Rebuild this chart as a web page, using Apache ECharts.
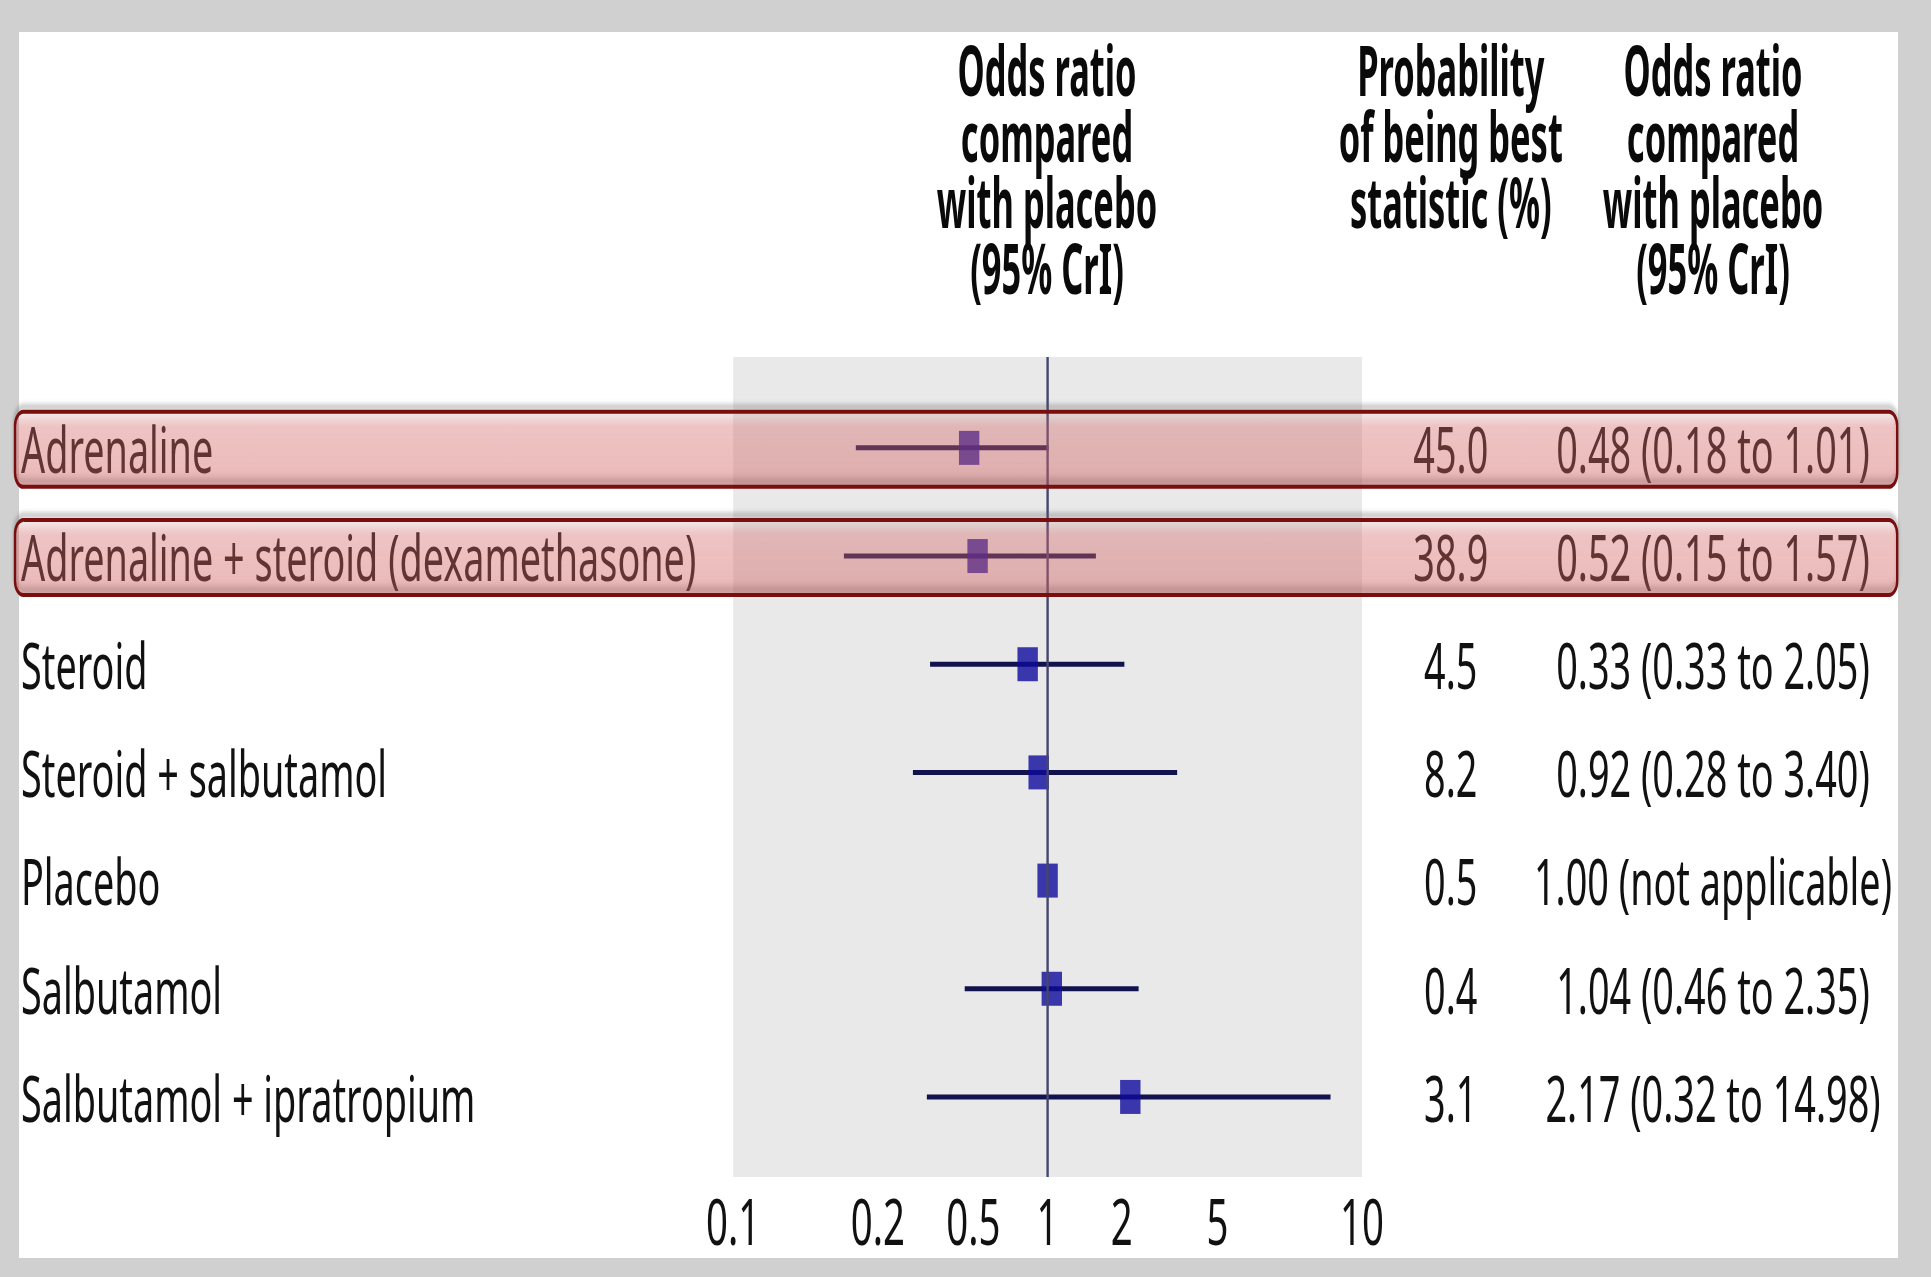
<!DOCTYPE html>
<html>
<head>
<meta charset="utf-8">
<script src="https://cdn.jsdelivr.net/npm/echarts@6/dist/echarts.min.js"></script>
<style>
  html, body { margin: 0; padding: 0; width: 1931px; height: 1277px; overflow: hidden; background: #d0d0d0; }
  #paper { position: absolute; left: 19px; top: 32px; width: 1879px; height: 1226px; background: #fff; }
  /* the source figure is squashed sideways, so the whole chart is drawn wide and squeezed */
  #main { position: absolute; left: 0; top: 0; width: 3219px; height: 1277px; transform: scaleX(0.6); transform-origin: 0 0; }
</style>
</head>
<body>
<div id="paper"></div>
<div id="main"></div>
<script>
// rows, top to bottom
var treatments = ['Adrenaline', 'Adrenaline + steroid (dexamethasone)', 'Steroid', 'Steroid + salbutamol', 'Placebo', 'Salbutamol', 'Salbutamol + ipratropium']
var probBest = [45.0, 38.9, 4.5, 8.2, 0.5, 0.4, 3.1]
var orText = ['0.48 (0.18 to 1.01)', '0.52 (0.15 to 1.57)', '0.33 (0.33 to 2.05)', '0.92 (0.28 to 3.40)', '1.00 (not applicable)', '1.04 (0.46 to 2.35)', '2.17 (0.32 to 14.98)']
// odds ratios as they are drawn in the plot
var orPoint = [0.48, 0.52, 0.83, 0.92, 1.00, 1.04, 2.17]
var orLow = [0.18, 0.17, 0.33, 0.28, null, 0.46, 0.32]
var orHigh = [1.01, 1.57, 2.05, 3.40, null, 2.35, 8.6]
var highlighted = [true, true, false, false, false, false, false]
var tickValues = [0.1, 0.2, 0.5, 1, 2, 5, 10]
var headerOr = ['Odds ratio', 'compared', 'with placebo', '(95% CrI)']
var headerProb = ['Probability', 'of being best', 'statistic (%)']

// where each tick sits on the axis (the figure spaces them unevenly)
var tickSpots = [-1, -0.54, -0.236, 0, 0.236, 0.54, 1]

// odds ratio -> axis position, log-interpolated between ticks
function orToU(v) {
  var lv = Math.log10(v)
  var k = 0
  while (k < tickValues.length - 2 && lv > Math.log10(tickValues[k + 1])) k++
  var a = Math.log10(tickValues[k]), b = Math.log10(tickValues[k + 1])
  return tickSpots[k] + (lv - a) / (b - a) * (tickSpots[k + 1] - tickSpots[k])
}

var FONT = 'Noto Sans'
var rowIdx = treatments.map(function (t, i) { return i })

var ciData = []
rowIdx.forEach(function (i) {
  if (orLow[i] != null) ciData.push([orToU(orLow[i]), orToU(orHigh[i]), i])
})
var pointData = rowIdx.map(function (i) { return [orToU(orPoint[i]), i] })

function rowAxis(pos, margin, align, fmt) {
  return {
    type: 'value',
    position: pos,
    inverse: true,
    min: -0.84,
    max: 6.74,
    axisLine: { show: false },
    axisTick: { show: false },
    splitLine: { show: false },
    axisLabel: {
      customValues: rowIdx,
      margin: margin,
      align: align,
      verticalAlign: 'middle',
      color: '#111',
      fontSize: 63,
      fontFamily: FONT,
      formatter: fmt
    }
  }
}

var chart = echarts.init(document.getElementById('main'), null, { renderer: 'svg' })
chart.setOption({
  animation: false,
  grid: {
    show: true,
    left: 1222,
    top: 357,
    width: 1048,
    height: 820,
    backgroundColor: '#e9e9e9',
    borderWidth: 0
  },
  xAxis: {
    type: 'value',
    min: -1,
    max: 1,
    axisLine: { show: false },
    axisTick: { show: false },
    splitLine: { show: false },
    axisLabel: {
      customValues: tickSpots,
      margin: 43,
      verticalAlign: 'middle',
      color: '#111',
      fontSize: 64,
      fontFamily: FONT,
      formatter: function (val) {
        for (var i = 0; i < tickSpots.length; i++) {
          if (Math.abs(tickSpots[i] - val) < 1e-6) return String(tickValues[i])
        }
        return ''
      }
    }
  },
  yAxis: [
    rowAxis('left', 1187, 'left', function (v) { return treatments[Math.round(v)] || '' }),
    rowAxis('right', 148, 'center', function (v) { var p = probBest[Math.round(v)]; return p == null ? '' : p.toFixed(1) }),
    rowAxis('right', 585, 'center', function (v) { return orText[Math.round(v)] || '' })
  ],
  series: [
    {
      name: 'CrI',
      type: 'custom',
      z: 2,
      data: ciData,
      encode: { x: [0, 1], y: 2 },
      renderItem: function (params, api) {
        var a = api.coord([api.value(0), api.value(2)])
        var b = api.coord([api.value(1), api.value(2)])
        return {
          type: 'line',
          shape: { x1: a[0], y1: a[1], x2: b[0], y2: b[1] },
          style: { stroke: '#12124f', lineWidth: 5 }
        }
      },
      markLine: {
        silent: true,
        symbol: ['none', 'none'],
        label: { show: false },
        lineStyle: { color: '#45456e', width: 4, type: 'solid' },
        data: [{ xAxis: orToU(1) }]
      }
    },
    {
      name: 'Odds ratio',
      type: 'scatter',
      z: 3,
      symbol: 'rect',
      symbolSize: 34,
      itemStyle: { color: '#0e0a9c' },
      data: pointData
    }
  ]
})

// header blocks and the highlight boxes
function header(x, lines) {
  return {
    type: 'text',
    x: x,
    y: 36,
    scaleX: 0.82,
    style: {
      text: lines.join('\n'),
      textAlign: 'center',
      align: 'center',
      textVerticalAlign: 'top',
      verticalAlign: 'top',
      fontFamily: FONT,
      fontWeight: 'bold',
      fontSize: 70,
      lineHeight: 66,
      fill: '#0a0a0a'
    }
  }
}

var elements = [
  header(1745, headerOr),
  header(2418, headerProb),
  header(2855, headerOr)
]

rowIdx.forEach(function (i) {
  if (!highlighted[i]) return
  var y = chart.convertToPixel({ yAxisIndex: 0 }, i)
  elements.push({
    type: 'rect',
    z: 100,
    silent: true,
    shape: { x: 25, y: y - 36, width: 3137, height: 75, r: 14 },
    style: {
      fill: new echarts.graphic.LinearGradient(0, 0, 0, 1, [
        { offset: 0, color: 'rgba(240,130,130,0.08)' },
        { offset: 0.2, color: 'rgba(235,105,105,0.3)' },
        { offset: 0.8, color: 'rgba(232,100,100,0.33)' },
        { offset: 1, color: 'rgba(170,80,80,0.45)' }
      ]),
      stroke: '#7a0a0a',
      lineWidth: 4,
      shadowBlur: 5,
      shadowOffsetY: -5,
      shadowColor: 'rgba(90,90,90,0.45)'
    }
  })
})

chart.setOption({ graphic: { elements: elements } })
</script>
</body>
</html>
